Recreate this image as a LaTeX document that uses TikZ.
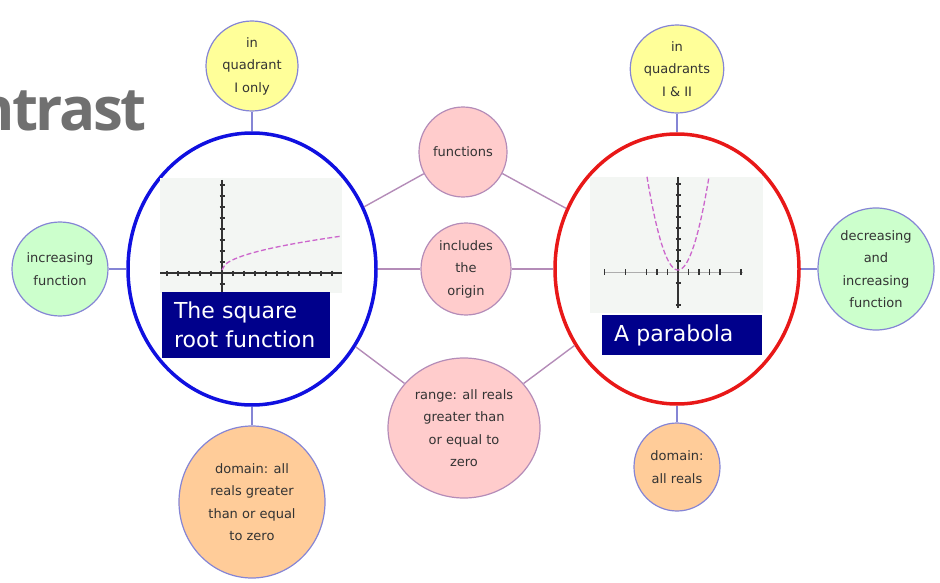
\documentclass[tikz,border=0pt]{standalone}
\usepackage{fontspec}
\setmainfont{DejaVu Sans}
\newfontfamily\titlefont[LetterSpace=-4]{Open Sans}
\usetikzlibrary{
  shapes.geometric,
  positioning
}
\definecolor{titlegray}{HTML}{707070}
\definecolor{textgray}{HTML}{333333}
\definecolor{nodeedge}{HTML}{8585D5}
\definecolor{pinkedge}{HTML}{B48CB8}
\definecolor{yellowfill}{HTML}{FFFF99}
\definecolor{greenfill}{HTML}{CCFFCC}
\definecolor{orangefill}{HTML}{FFCC99}
\definecolor{pinkfill}{HTML}{FFCCCC}
\definecolor{ringblue}{HTML}{1010E0}
\definecolor{ringred}{HTML}{E81818}
\definecolor{navybox}{HTML}{00008B}
\definecolor{plotbg}{HTML}{F3F6F3}
\definecolor{curvepink}{HTML}{CC66CC}
\tikzset{
  bubble/.style={ellipse, draw=nodeedge, line width=1.2pt, inner sep=0pt,
    align=center, text=textgray, font=\fontsize{13}{22.5}\selectfont},
  pinkbubble/.style={bubble, draw=pinkedge, fill=pinkfill},
  bigring/.style={ellipse, line width=3.5pt, inner sep=0pt, fill=white},
  labelbox/.style={rectangle, fill=navybox, text=white, align=left,
    inner xsep=12pt, inner ysep=0pt, font=\fontsize{22}{29}\selectfont},
  link/.style={draw=nodeedge, line width=1.4pt},
  pinklink/.style={draw=pinkedge, line width=1.4pt},
  axis/.style={draw=textgray, line width=1.1pt},
  curve/.style={draw=curvepink, line width=1.3pt, dash pattern=on 5pt off 2.5pt}
}
\begin{document}
\begin{tikzpicture}[x=1pt, y=-1pt]
  \useasboundingbox (0,0) rectangle (940,583);
  % title fragment
  \node[anchor=base east, inner sep=0pt, text=titlegray,
    font=\titlefont\bfseries\fontsize{60}{60}\selectfont] (title) at (147,131) {ntrast};
  % the two big rings
  \node[bigring, draw=ringblue, minimum width=248pt, minimum height=272pt] (sqrt) at (252,269) {};
  \node[bigring, draw=ringred, minimum width=244pt, minimum height=270pt] (para) at (677,269) {};
  % square root graph
  \fill[plotbg] (160,178) rectangle (342,293);
  \draw[axis] (160,273) -- (342,273);
  \draw[axis] (222,180) -- (222,293);
  \foreach \k in {-5,-4,-3,-2,-1,1,2,3,4,5,6,7,8,9,10}
    \draw[axis] (222+11*\k,270.5) -- (222+11*\k,275.5);
  \foreach \k in {-1,1,2,3,4,5,6,7,8}
    \draw[axis] (219.5,273-11*\k) -- (224.5,273-11*\k);
  \draw[curve] plot[domain=0:120, samples=40] ({222+\x},{270-3.1*sqrt(\x)});
  % parabola graph
  \fill[plotbg] (590,177) rectangle (763,313);
  \draw[draw=textgray!40, line width=0.6pt] (604,272) -- (743,272);
  \foreach \k in {-7,-5,-3,-2,-1,1,2,3,4,6}
    \draw[axis] (678+10.5*\k,269) -- (678+10.5*\k,275);
  \draw[axis] (678,177) -- (678,308);
  \foreach \k in {-3,-1,1,2,3,4,5,6,7,8}
    \draw[axis] (675.5,272-11*\k) -- (680.5,272-11*\k);
  \draw[curve] plot[domain=-31:31, samples=50] ({678+\x},{270-0.097*\x*\x});
  % name boxes
  \node[labelbox, minimum width=168pt, minimum height=66pt, text width=144pt] (sqname) at (246,325) {The square\\root function};
  \node[labelbox, minimum width=160pt, minimum height=40pt, text width=136pt] (paname) at (682,335) {A parabola};
  % outer bubbles
  \node[bubble, fill=yellowfill, minimum width=92pt, minimum height=90pt] (sqquad) at (252,66) {in\\quadrant\\I only};
  \node[bubble, fill=yellowfill, minimum width=88pt, minimum height=88pt] (paquad) at (677,69) {in\\quadrants\\I \& II};
  \node[bubble, fill=greenfill, minimum width=96pt, minimum height=94pt] (sqinc) at (60,269) {increasing\\function};
  \node[bubble, fill=greenfill, minimum width=116pt, minimum height=122pt] (painc) at (876,269) {decreasing\\and\\increasing\\function};
  \node[bubble, fill=orangefill, minimum width=146pt, minimum height=152pt] (sqdom) at (252,502) {domain: all\\reals greater\\than or equal\\to zero};
  \node[bubble, fill=orangefill, minimum width=86pt, minimum height=88pt] (padom) at (677,467) {domain:\\all reals};
  % shared bubbles
  \node[pinkbubble, minimum width=88pt, minimum height=90pt] (func) at (463,152) {functions};
  \node[pinkbubble, minimum width=90pt, minimum height=92pt] (origin) at (466,269) {includes\\the\\origin};
  \node[pinkbubble, minimum width=152pt, minimum height=140pt] (range) at (464,428) {range: all reals\\greater than\\or equal to\\zero};
  % links
  \draw[link] (sqquad) -- (sqrt);
  \draw[link] (sqinc) -- (sqrt);
  \draw[link] (sqdom) -- (sqrt);
  \draw[link] (paquad) -- (para);
  \draw[link] (painc) -- (para);
  \draw[link] (padom) -- (para);
  \draw[pinklink] (func) -- (sqrt);
  \draw[pinklink] (func) -- (para);
  \draw[pinklink] (origin) -- (sqrt);
  \draw[pinklink] (origin) -- (para);
  \draw[pinklink] (range) -- (sqrt);
  \draw[pinklink] (range) -- (para);
\end{tikzpicture}
\end{document}
